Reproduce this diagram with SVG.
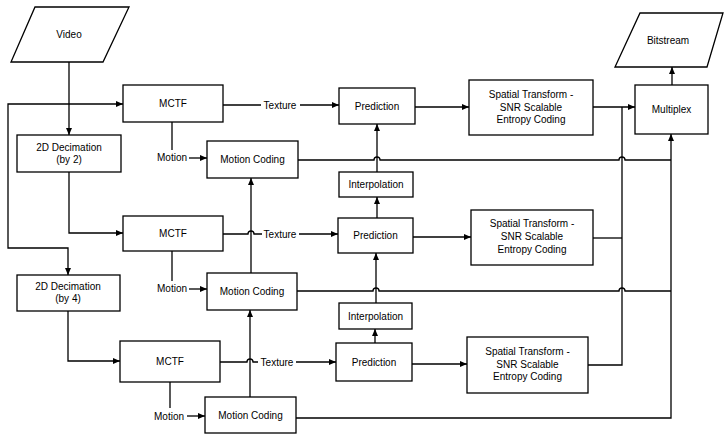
<svg xmlns="http://www.w3.org/2000/svg" width="725" height="435" viewBox="0 0 725 435">
<defs>
<marker id="ah" markerUnits="userSpaceOnUse" markerWidth="8" markerHeight="6" refX="7" refY="3" orient="auto">
<path d="M0,0 L7,3 L0,6 z" fill="#000"/>
</marker>
<style>
.b{fill:#fff;stroke:#000;stroke-width:1.3}
.c{fill:none;stroke:#000;stroke-width:1.3}
.a{marker-end:url(#ah)}
text{font-family:"Liberation Sans",Arial,sans-serif;font-size:10px;fill:#000;text-anchor:middle}
</style>
</defs>
<rect width="725" height="435" fill="#fff"/>

<g id="connectors">
<path class="c a" d="M69,62 V135"/>
<path class="c a" d="M69,104 H123"/>
<path class="c a" d="M69,104 H8 V248 H68 V275"/>
<path class="c a" d="M69,172 V233 H123"/>
<path class="c a" d="M68,311 V361 H120"/>
<!-- motion -->
<path class="c" d="M172,122 V150"/>
<path class="c a" d="M189,158 H207"/>
<path class="c" d="M172,251 V281"/>
<path class="c a" d="M189,289 H207"/>
<path class="c" d="M170,382 V408"/>
<path class="c a" d="M187,416 H205"/>
<!-- texture -->
<path class="c" d="M223,105 H261"/>
<path class="c a" d="M300,105 H339"/>
<path class="c" d="M223,234 H248 a3,3 0 0 1 6,0 H262"/>
<path class="c a" d="M299,234 H338"/>
<path class="c" d="M220,362 H247 a3,3 0 0 1 6,0 H258"/>
<path class="c a" d="M296,362 H336"/>
<!-- motion coding up -->
<path class="c a" d="M251,273 V178"/>
<path class="c a" d="M250,397 V310"/>
<!-- prediction to ST -->
<path class="c a" d="M415,107 H469"/>
<path class="c a" d="M413,237 H471"/>
<path class="c a" d="M412,364 H467"/>
<!-- interpolation -->
<path class="c a" d="M377,172 V124"/>
<path class="c a" d="M377,218 V197"/>
<path class="c a" d="M376,303 V253"/>
<path class="c a" d="M375,343 V329"/>
<!-- ST outputs -->
<path class="c a" d="M593,107 H635"/>
<path class="c" d="M593,238 H622"/>
<path class="c" d="M588,365 H622 V107"/>
<!-- motion coding to multiplex -->
<path class="c" d="M298,160 H374 a3,3 0 0 1 6,0 H619 a3,3 0 0 1 6,0 H671"/>
<path class="c" d="M297,291 H373 a3,3 0 0 1 6,0 H619 a3,3 0 0 1 6,0 H671"/>
<path class="c a" d="M296,418 H671 V134"/>
<path class="c a" d="M672,85 V67"/>
</g>

<g id="video"><polygon class="b" points="35,7 129,7 103,62 11,62"/><text x="69" y="38">Video</text></g>
<g id="bitstream"><polygon class="b" points="640,13 723,13 707,67 615,67"/><text x="668" y="44">Bitstream</text></g>

<g id="dec2"><rect class="b" x="17" y="135" width="104" height="37"/><text x="69" y="150.5">2D Decimation</text><text x="69" y="163">(by 2)</text></g>
<g id="dec4"><rect class="b" x="17" y="275" width="103" height="36"/><text x="68" y="290">2D Decimation</text><text x="68" y="302">(by 4)</text></g>

<g id="mctf1"><rect class="b" x="123" y="85" width="100" height="37"/><text x="173" y="107">MCTF</text></g>
<g id="mctf2"><rect class="b" x="123" y="216" width="100" height="35"/><text x="173" y="237">MCTF</text></g>
<g id="mctf3"><rect class="b" x="120" y="341" width="100" height="41"/><text x="170" y="365">MCTF</text></g>

<g id="lbl"><text x="172" y="161">Motion</text><text x="172" y="292">Motion</text><text x="169" y="420">Motion</text>
<text x="280" y="108.5">Texture</text><text x="280" y="237.5">Texture</text><text x="277" y="365.5">Texture</text></g>

<g id="mc1"><rect class="b" x="207" y="141" width="91" height="37"/><text x="252.5" y="163">Motion Coding</text></g>
<g id="mc2"><rect class="b" x="207" y="273" width="90" height="37"/><text x="252" y="295">Motion Coding</text></g>
<g id="mc3"><rect class="b" x="205" y="397" width="91" height="36"/><text x="250.5" y="419">Motion Coding</text></g>

<g id="pred1"><rect class="b" x="339" y="88" width="76" height="36"/><text x="377" y="109.5">Prediction</text></g>
<g id="pred2"><rect class="b" x="338" y="218" width="75" height="35"/><text x="375.5" y="239">Prediction</text></g>
<g id="pred3"><rect class="b" x="336" y="343" width="76" height="38"/><text x="374" y="365.5">Prediction</text></g>

<g id="interp1"><rect class="b" x="339" y="172" width="74" height="25"/><text x="376" y="188">Interpolation</text></g>
<g id="interp2"><rect class="b" x="339" y="303" width="73" height="26"/><text x="375.5" y="319.5">Interpolation</text></g>

<g id="st1"><rect class="b" x="469" y="80" width="124" height="55"/><text x="531" y="98">Spatial Transform -</text><text x="531" y="110.5">SNR Scalable</text><text x="531" y="123">Entropy Coding</text></g>
<g id="st2"><rect class="b" x="471" y="210" width="122" height="55"/><text x="532" y="226.5">Spatial Transform -</text><text x="532" y="239.5">SNR Scalable</text><text x="532" y="252.5">Entropy Coding</text></g>
<g id="st3"><rect class="b" x="467" y="337" width="121" height="56"/><text x="527.5" y="355">Spatial Transform -</text><text x="527.5" y="367.5">SNR Scalable</text><text x="527.5" y="380">Entropy Coding</text></g>

<g id="multiplex"><rect class="b" x="635" y="85" width="73" height="49"/><text x="671.5" y="113">Multiplex</text></g>
</svg>
